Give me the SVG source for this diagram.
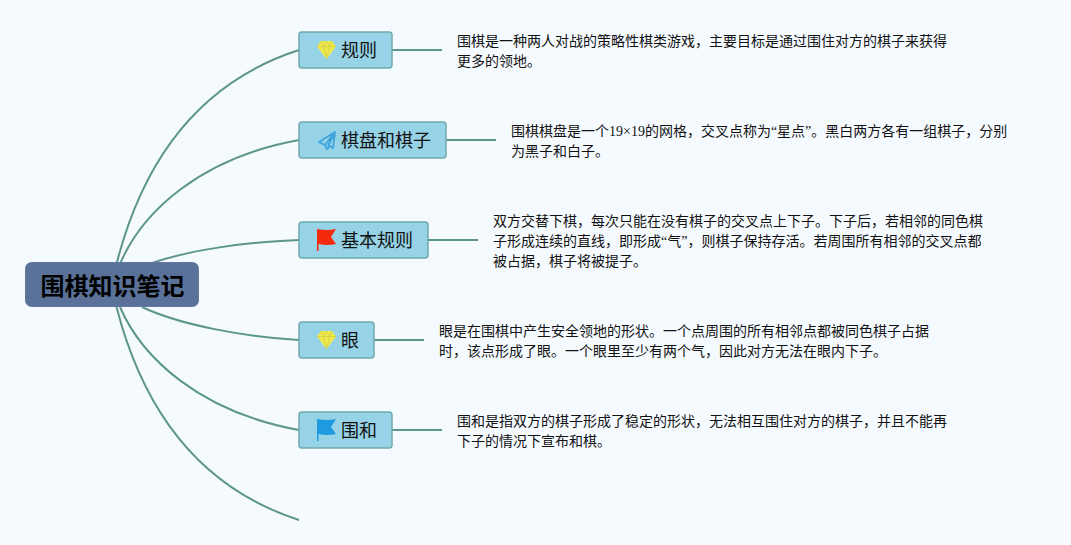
<svg xmlns="http://www.w3.org/2000/svg" width="1071" height="545" viewBox="0 0 1071 545">
<style>
.c{fill:none;stroke:#5b9688;stroke-width:2;stroke-linecap:butt}
.n{fill:#96d3e6;stroke:#6fabab;stroke-width:1.5}
.t{font-family:"Liberation Serif","Noto Sans CJK SC",sans-serif;font-size:14px;fill:#111}
.l{font-family:"Noto Sans CJK SC",sans-serif;font-size:18px;fill:#111}
.r{font-family:"Noto Sans CJK SC",sans-serif;font-size:24px;font-weight:700;fill:#000}
</style>
<defs>
<g id="gem"><path d="M-5.500,-9H5.500L9.500,-3.500 0,9-9.500,-3.500Z" fill="#eeea4e"/><path d="M-5.500,-9L-3,-3.500 0,9 3,-3.500 5.500,-9M-9.500,-3.500H9.500M-3,-3.500L0,-9 3,-3.500" fill="none" stroke="#cfc83e" stroke-width=".7"/></g>
</defs>
<rect width="1071" height="545" fill="#f5faff"/>
<g id="connectors">
<path class="c" d="M116.500,264C143,160 200,82 299,50"/>
<path class="c" d="M120,264C142,212 200,158 299,140"/>
<path class="c" d="M152,263C190,250 245,242 299,240"/>
<path class="c" d="M142,307C180,325 245,337 299,340"/>
<path class="c" d="M120,307C142,358 200,412 299,430"/>
<path class="c" d="M116.500,307C143,410 200,488 299,520"/>
<path class="c" d="M392,50H442"/>
<path class="c" d="M446,140H496"/>
<path class="c" d="M428,240H478"/>
<path class="c" d="M374,340H424"/>
<path class="c" d="M392,430H442"/>
</g>
<g id="root">
<rect x="25.500" y="262.500" width="173" height="44" rx="6" fill="#5a7299" stroke="#65799c"/>
<text class="r" x="112.500" y="295" text-anchor="middle">围棋知识笔记</text>
</g>
<g id="node1">
<rect class="n" x="299" y="32" width="93" height="36" rx="3"/>
<use href="#gem" x="326.500" y="50"/>
<text class="l" x="341" y="57">规则</text>
<text class="t" x="457" y="46">围棋是一种两人对战的策略性棋类游戏，主要目标是通过围住对方的棋子来获得</text>
<text class="t" x="457" y="66">更多的领地。</text>
</g>
<g id="node2">
<rect class="n" x="299" y="122" width="147" height="36" rx="3"/>
<path d="M335,132L319,142 325,145 327,149 330,146 333,148Z M325,145L335,132 328,146" fill="none" stroke="#3fa3dc" stroke-width="1.800" stroke-linejoin="round"/>
<text class="l" x="341" y="147">棋盘和棋子</text>
<text class="t" x="511" y="136">围棋棋盘是一个19×19的网格，交叉点称为“星点”。黑白两方各有一组棋子，分别</text>
<text class="t" x="511" y="156">为黑子和白子。</text>
</g>
<g id="node3">
<rect class="n" x="299" y="222" width="129" height="36" rx="3"/>
<path d="M317,229Q327,231 336,229L331,237 336,244Q327,246 318.500,244V251H317Z" fill="#f52a0c"/>
<text class="l" x="341" y="247">基本规则</text>
<text class="t" x="493" y="226">双方交替下棋，每次只能在没有棋子的交叉点上下子。下子后，若相邻的同色棋</text>
<text class="t" x="493" y="246">子形成连续的直线，即形成“气”，则棋子保持存活。若周围所有相邻的交叉点都</text>
<text class="t" x="493" y="266">被占据，棋子将被提子。</text>
</g>
<g id="node4">
<rect class="n" x="299" y="322" width="75" height="36" rx="3"/>
<use href="#gem" x="326.500" y="340"/>
<text class="l" x="341" y="347">眼</text>
<text class="t" x="439" y="336">眼是在围棋中产生安全领地的形状。一个点周围的所有相邻点都被同色棋子占据</text>
<text class="t" x="439" y="356">时，该点形成了眼。一个眼里至少有两个气，因此对方无法在眼内下子。</text>
</g>
<g id="node5">
<rect class="n" x="299" y="412" width="93" height="36" rx="3"/>
<path d="M317,419Q327,421 336,419L331,427 336,434Q327,436 318.500,434V441H317Z" fill="#1e9be0"/>
<text class="l" x="341" y="437">围和</text>
<text class="t" x="457" y="426">围和是指双方的棋子形成了稳定的形状，无法相互围住对方的棋子，并且不能再</text>
<text class="t" x="457" y="446">下子的情况下宣布和棋。</text>
</g>
</svg>
